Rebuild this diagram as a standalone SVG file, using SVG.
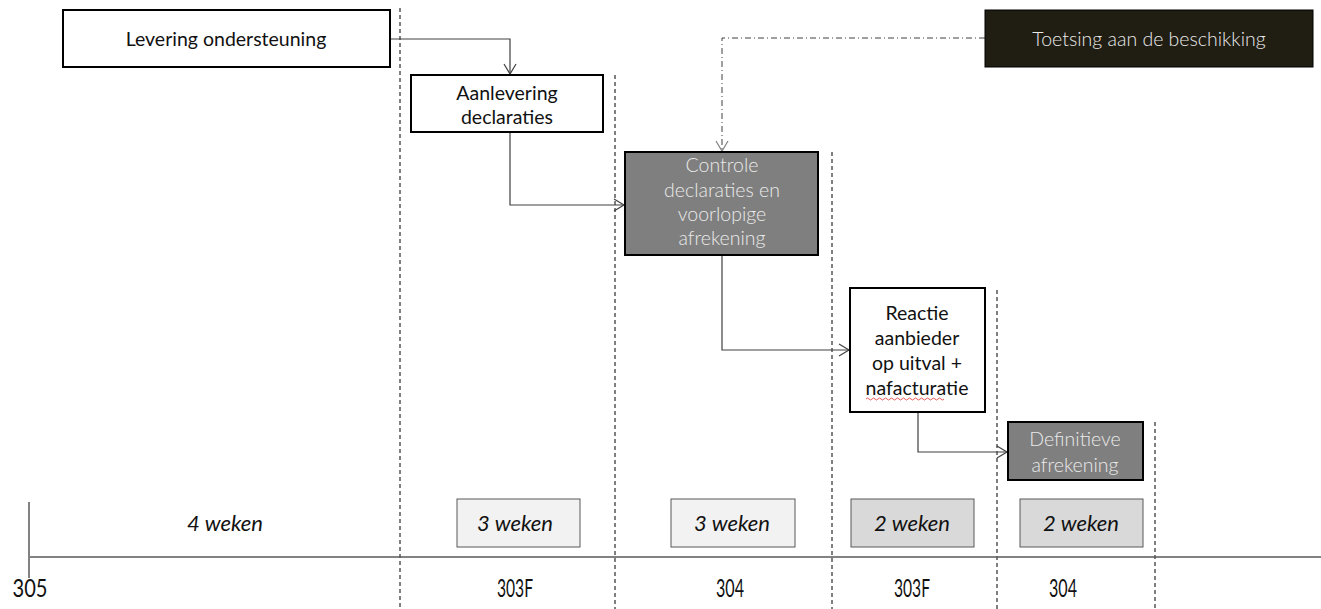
<svg xmlns="http://www.w3.org/2000/svg" width="1321" height="609" viewBox="0 0 1321 609">
<defs>
<style>
.t{font-family:Lato,"Open Sans","Liberation Sans",sans-serif;font-size:19.5px;font-weight:400;text-anchor:middle;fill:#111}
.w{fill:#eaeaea;font-weight:300}
.it{font-style:italic;font-size:22px}
.num{font-size:25px}
.box{fill:#fff;stroke:#000;stroke-width:2}
.grey{fill:#7f7f7f;stroke:#000;stroke-width:2}
.dash{stroke:#000;stroke-width:1;stroke-dasharray:4,3;fill:none}
.con{stroke:#404040;stroke-width:1.2;fill:none}
.wk1{fill:#f2f2f2;stroke:#595959;stroke-width:1}
.wk2{fill:#d9d9d9;stroke:#595959;stroke-width:1}
</style>
<marker id="arr" markerWidth="14" markerHeight="14" refX="11" refY="7" orient="auto" markerUnits="userSpaceOnUse">
<path d="M1,1 L11,7 L1,13" fill="none" stroke="#404040" stroke-width="1.2"/>
</marker>
<marker id="arr2" markerWidth="14" markerHeight="14" refX="11" refY="7" orient="auto" markerUnits="userSpaceOnUse">
<path d="M1,1 L11,7 L1,13" fill="none" stroke="#808080" stroke-width="1.2"/>
</marker>
</defs>
<rect width="1321" height="609" fill="#fff"/>
<g id="gridlines">
<line class="dash" x1="400" y1="8" x2="400" y2="609"/>
<line class="dash" x1="615" y1="75" x2="615" y2="609"/>
<line class="dash" x1="832" y1="152" x2="832" y2="609"/>
<line class="dash" x1="997" y1="290" x2="997" y2="609"/>
<line class="dash" x1="1155" y1="422" x2="1155" y2="609"/>
</g>
<g id="connectors">
<path class="con" d="M390,39 H510 V74" marker-end="url(#arr)"/>
<path class="con" d="M510,132 V205 H624" marker-end="url(#arr)"/>
<path d="M985,38 H722 V151" fill="none" stroke="#404040" stroke-width="1" stroke-dasharray="6,3,1,3" marker-end="url(#arr2)"/>
<path class="con" d="M722,255 V350 H849" marker-end="url(#arr)"/>
<path class="con" d="M918,412 V452 H1007" marker-end="url(#arr)"/>
</g>
<g id="levering">
<rect class="box" x="63" y="10" width="327" height="57"/>
<text class="t" x="226" y="46">Levering ondersteuning</text>
</g>
<g id="aanlevering">
<rect class="box" x="411" y="75" width="192" height="57"/>
<text class="t" x="507" y="100">Aanlevering</text>
<text class="t" x="507" y="124">declaraties</text>
</g>
<g id="toetsing">
<rect x="985" y="10" width="328" height="57" fill="#201d13" stroke="#000" stroke-width="1"/>
<text class="t w" x="1149" y="46">Toetsing aan de beschikking</text>
</g>
<g id="controle">
<rect class="grey" x="625" y="152" width="193" height="103"/>
<text class="t w" x="722" y="172">Controle</text>
<text class="t w" x="722" y="197">declaraties en</text>
<text class="t w" x="722" y="221">voorlopige</text>
<text class="t w" x="722" y="245">afrekening</text>
</g>
<g id="reactie">
<rect class="box" x="850" y="288" width="135" height="124"/>
<text class="t" x="917" y="320">Reactie</text>
<text class="t" x="917" y="345">aanbieder</text>
<text class="t" x="917" y="370">op uitval +</text>
<text class="t" x="917" y="395">nafacturatie</text>
<path d="M866,399 q1.5,-2 3,0 t3,0 t3,0 t3,0 t3,0 t3,0 t3,0 t3,0 t3,0 t3,0 t3,0 t3,0 t3,0 t3,0 t3,0 t3,0 t3,0 t3,0 t3,0 t3,0 t3,0 t3,0 t3,0 t3,0 t3,0 t3,0" fill="none" stroke="#e03030" stroke-width="0.8"/>
</g>
<g id="definitieve">
<rect class="grey" x="1008" y="422" width="135" height="58"/>
<text class="t w" x="1075" y="446">Definitieve</text>
<text class="t w" x="1075" y="472">afrekening</text>
</g>
<g id="timeline">
<line x1="30" y1="557" x2="1321" y2="557" stroke="#595959" stroke-width="1.5"/>
<line x1="29" y1="502" x2="29" y2="578" stroke="#595959" stroke-width="1.5"/>
<text class="t num" x="30" y="597" textLength="35" lengthAdjust="spacingAndGlyphs">305</text>
<text class="t it" x="225" y="531">4 weken</text>
<rect class="wk1" x="457" y="499" width="123" height="48"/>
<text class="t it" x="515" y="531">3 weken</text>
<rect class="wk1" x="671" y="499" width="124" height="48"/>
<text class="t it" x="732" y="531">3 weken</text>
<rect class="wk2" x="851" y="499" width="123" height="48"/>
<text class="t it" x="912" y="531">2 weken</text>
<rect class="wk2" x="1020" y="499" width="123" height="48"/>
<text class="t it" x="1081" y="531">2 weken</text>
<text class="t num" x="515" y="597" textLength="36" lengthAdjust="spacingAndGlyphs">303F</text>
<text class="t num" x="730" y="597" textLength="28" lengthAdjust="spacingAndGlyphs">304</text>
<text class="t num" x="912" y="597" textLength="36" lengthAdjust="spacingAndGlyphs">303F</text>
<text class="t num" x="1063" y="597" textLength="28" lengthAdjust="spacingAndGlyphs">304</text>
</g>
</svg>
